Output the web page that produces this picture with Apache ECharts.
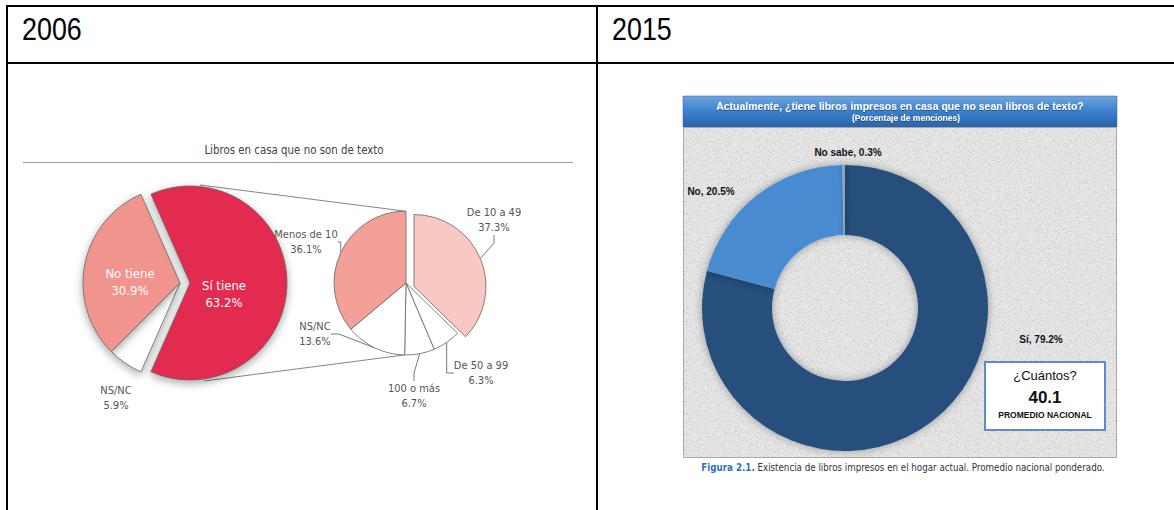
<!DOCTYPE html>
<html lang="es">
<head>
<meta charset="UTF-8">
<title>Libros en casa 2006 / 2015</title>
<script src="https://cdn.jsdelivr.net/npm/echarts@6/dist/echarts.min.js"></script>
<style>
    html, body { margin: 0; padding: 0; background: #fff; }
    #granito { position: absolute; left: 684px; top: 127px; width: 432px; height: 330px; background-color: #e8e8e8; }
    #main { position: absolute; left: 0; top: 0; width: 1174px; height: 510px; }
</style>
</head>
<body>
<div id="granito"></div>
<div id="main"></div>
<script type="text/javascript">
    // encabezados de la tabla
    var encabezados = ['2006', '2015'];

    // 2006: libros en casa que no son de texto
    var cat2006 = ['Sí tiene', 'NS/NC', 'No tiene'];
    var val2006 = [63.2, 5.9, 30.9];

    // 2006: desglose de "Sí tiene"
    var catDesglose = ['De 10 a 49', 'De 50 a 99', '100 o más', 'NS/NC', 'Menos de 10'];
    var valDesglose = [37.3, 6.3, 6.7, 13.6, 36.1];

    // 2015
    var cat2015 = ['Sí', 'No', 'No sabe'];
    var val2015 = [79.2, 20.5, 0.3];
    var promedioNacional = 40.1;

    // textura tipo granito del panel 2015
    var ruido = "<svg xmlns='http://www.w3.org/2000/svg' width='200' height='200'>" +
        "<filter id='n'><feTurbulence type='fractalNoise' baseFrequency='1.1' numOctaves='2' seed='3'/>" +
        "<feColorMatrix type='matrix' values='0 0 0 0 0.45  0 0 0 0 0.45  0 0 0 0 0.45  0 0 0 1.6 -0.72'/></filter>" +
        "<rect width='200' height='200' filter='url(#n)'/></svg>";
    document.getElementById('granito').style.backgroundImage = 'url("data:image/svg+xml,' + encodeURIComponent(ruido) + '")';

    var fCond = '"DejaVu Sans Condensed", "DejaVu Sans", sans-serif';
    var fArial = '"Liberation Sans", Arial, sans-serif';

    var coloresGrande = ['#e3294f', '#ffffff', '#f1948d'];
    var coloresDesglose = ['#f9c8c2', '#ffffff', '#ffffff', '#ffffff', '#f2a098'];
    var colores2015 = ['#264f7e', '#4a8bd1', '#8fa3ba'];

    var cGrande = [180, 283], rGrande = 97;
    var cChico = [406, 283], rChico = 72;
    var c2015 = [845, 308];

    // posiciones de las etiquetas (centro del texto)
    var posGrande = [[224, 294], [116, 398], [130, 282]];
    var posDesglose = [[494, 220], [481, 373], [414, 396], [315, 334], [306, 242]];
    var pos2015 = [[1041, 339], [711, 191], [848, 152]];

    function etiquetas(pos) {
        return function (p) {
            return { x: pos[p.dataIndex][0], y: pos[p.dataIndex][1], align: 'center', verticalAlign: 'middle' };
        };
    }

    function conPorcentaje(p) {
        return p.name + '\n' + p.value.toFixed(1) + '%';
    }

    // pastel en el que solo se ven las porciones de "visibles"; sirve para separar una porción
    function pastel(nombre, cats, vals, colores, centro, radio, inicio, visibles, extra) {
        var s = {
            name: nombre,
            type: 'pie',
            center: centro,
            radius: radio,
            startAngle: inicio,
            avoidLabelOverlap: false,
            emphasis: { disabled: true },
            data: cats.map(function (n, i) {
                var d = { name: n, value: vals[i], itemStyle: { color: colores[i] } };
                if (visibles.indexOf(i) < 0) {
                    d.itemStyle = { color: 'rgba(0,0,0,0)', borderWidth: 0, shadowBlur: 0, shadowColor: 'rgba(0,0,0,0)' };
                    d.label = { show: false };
                    d.labelLine = { show: false };
                }
                return d;
            })
        };
        for (var k in extra) s[k] = extra[k];
        return s;
    }

    var myChart = echarts.init(document.getElementById('main'), null, { renderer: 'svg' });

    var gris = '#555';
    var estiloGrande = {
        itemStyle: { borderColor: '#666', borderWidth: 0.8, shadowColor: 'rgba(0,0,0,0.35)', shadowBlur: 8, shadowOffsetY: 3 },
        label: { position: 'inside', color: '#fff', fontSize: 13, fontFamily: fCond, lineHeight: 17, formatter: conPorcentaje },
        labelLine: { show: false },
        labelLayout: etiquetas(posGrande)
    };
    var estiloChico = {
        itemStyle: { borderColor: '#666', borderWidth: 0.8 },
        label: { color: gris, fontSize: 11, fontFamily: fCond, lineHeight: 15, formatter: conPorcentaje },
        labelLine: { show: true, length: 8, length2: 8, lineStyle: { color: '#555', width: 0.8 } },
        labelLayout: etiquetas(posDesglose)
    };

    var sGrandeSi = pastel('Sí tiene 2006', cat2006, val2006, coloresGrande, [cGrande[0] + 10, cGrande[1]], rGrande, val2006[0] * 1.8, [0], estiloGrande);
    var sGrandeResto = pastel('Resto 2006', cat2006, val2006, coloresGrande, cGrande, rGrande, val2006[0] * 1.8, [1, 2], estiloGrande);
    // la etiqueta de NS/NC va fuera, en gris
    sGrandeResto.data[1].label = { position: 'outside', color: gris, fontSize: 11, lineHeight: 15 };

    var sChicoSep = pastel('De 10 a 49', catDesglose, valDesglose, coloresDesglose, [cChico[0] + 8, cChico[1] + 3.5], rChico, 90, [0], estiloChico);
    var sChicoResto = pastel('Desglose 2006', catDesglose, valDesglose, coloresDesglose, cChico, rChico, 90, [1, 2, 3, 4], estiloChico);

    var option = {
        animation: false,
        graphic: [
            // tabla
            { type: 'rect', shape: { x: 6, y: 5, width: 1168, height: 2 }, style: { fill: '#000' } },
            { type: 'rect', shape: { x: 6, y: 62, width: 1168, height: 2 }, style: { fill: '#000' } },
            { type: 'rect', shape: { x: 6, y: 5, width: 2, height: 505 }, style: { fill: '#000' } },
            { type: 'rect', shape: { x: 596, y: 5, width: 2, height: 505 }, style: { fill: '#000' } },
            { type: 'text', x: 22, y: 29, scaleX: 0.84, style: { text: encabezados[0], x: 0, y: 0, fill: '#000', fontSize: 32, fontFamily: fArial, verticalAlign: 'middle' } },
            { type: 'text', x: 612, y: 29, scaleX: 0.84, style: { text: encabezados[1], x: 0, y: 0, fill: '#000', fontSize: 32, fontFamily: fArial, verticalAlign: 'middle' } },

            // 2006
            { type: 'text', style: { text: 'Libros en casa que no son de texto', x: 294, y: 150, fill: '#444', fontSize: 11.4, fontFamily: fCond, align: 'center', verticalAlign: 'middle' } },
            { type: 'line', shape: { x1: 23, y1: 162.5, x2: 573, y2: 162.5 }, style: { stroke: '#999', lineWidth: 1 } },
            { type: 'line', z: -1, shape: { x1: cGrande[0] + 20, y1: cGrande[1] - rGrande - 1, x2: cChico[0] - 2, y2: cChico[1] - rChico }, style: { stroke: '#666', lineWidth: 0.8 } },
            { type: 'line', z: -1, shape: { x1: cGrande[0] + 24, y1: cGrande[1] + rGrande + 1, x2: cChico[0] - 2, y2: cChico[1] + rChico }, style: { stroke: '#666', lineWidth: 0.8 } },

            // 2015
            { type: 'rect', shape: { x: 683, y: 96, width: 434, height: 31 },
                style: { fill: new echarts.graphic.LinearGradient(0, 0, 0, 1, [{ offset: 0, color: '#6ea6e0' }, { offset: 0.5, color: '#3d7fcb' }, { offset: 1, color: '#2b64ad' }]), stroke: '#2a5d9c', lineWidth: 0.5 } },
            { type: 'text', style: { text: 'Actualmente, ¿tiene libros impresos en casa que no sean libros de texto?', x: 900, y: 106, fill: '#fff', fontSize: 10.5, fontWeight: 'bold', fontFamily: fArial, align: 'center', verticalAlign: 'middle',
                textShadowColor: 'rgba(0,0,0,0.4)', textShadowBlur: 1, textShadowOffsetY: 1 } },
            { type: 'text', style: { text: '(Porcentaje de menciones)', x: 906, y: 118, fill: '#fff', fontSize: 8.5, fontWeight: 'bold', fontFamily: fArial, align: 'center', verticalAlign: 'middle',
                textShadowColor: 'rgba(0,0,0,0.4)', textShadowBlur: 1, textShadowOffsetY: 1 } },
            { type: 'rect', shape: { x: 683.5, y: 127.5, width: 433, height: 330 }, style: { fill: 'none', stroke: '#a8a8a8', lineWidth: 1 } },
            { type: 'rect', shape: { x: 985, y: 362, width: 120, height: 68 }, style: { fill: '#fff', stroke: '#5b8dc9', lineWidth: 2 } },
            { type: 'text', style: { text: '¿Cuántos?', x: 1045, y: 375, fill: '#111', fontSize: 13, fontFamily: fArial, align: 'center', verticalAlign: 'middle' } },
            { type: 'text', style: { text: promedioNacional.toFixed(1), x: 1045, y: 397, fill: '#111', fontSize: 17, fontWeight: 'bold', fontFamily: fArial, align: 'center', verticalAlign: 'middle' } },
            { type: 'text', style: { text: 'PROMEDIO NACIONAL', x: 1045, y: 415, fill: '#111', fontSize: 8.5, fontWeight: 'bold', fontFamily: fArial, align: 'center', verticalAlign: 'middle' } },
            { type: 'text', style: { text: '{a|Figura 2.1.} Existencia de libros impresos en el hogar actual. Promedio nacional ponderado.', x: 903, y: 467, fill: '#333', fontSize: 9.7, fontFamily: fCond, align: 'center', verticalAlign: 'middle',
                rich: { a: { fill: '#2e75b6', fontSize: 9.7, fontWeight: 'bold', fontFamily: fCond } } } }
        ],
        series: [
            sGrandeResto,
            sGrandeSi,
            sChicoResto,
            sChicoSep,
            {
                name: 'Libros 2015',
                type: 'pie',
                center: c2015,
                radius: [73, 143],
                startAngle: 90,
                itemStyle: { shadowColor: 'rgba(0,0,0,0.35)', shadowBlur: 8 },
                label: { color: '#111', fontSize: 10, fontWeight: 'bold', fontFamily: fArial, formatter: function (p) { return p.name + ', ' + p.value.toFixed(1) + '%'; } },
                labelLine: { show: false },
                labelLayout: etiquetas(pos2015),
                emphasis: { disabled: true },
                data: cat2015.map(function (n, i) {
                    return { name: n, value: val2015[i], itemStyle: { color: colores2015[i] } };
                })
            }
        ]
    };
    myChart.setOption(option);
</script>
</body>
</html>
